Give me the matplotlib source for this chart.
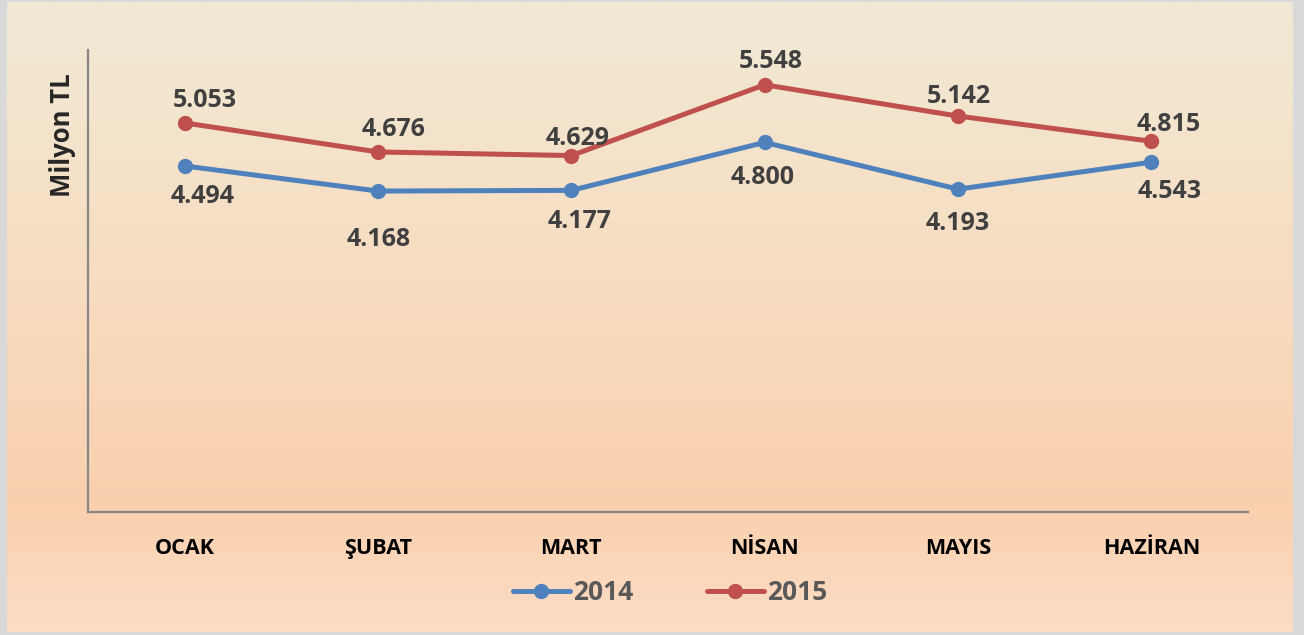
import numpy as np
import matplotlib.pyplot as plt
from matplotlib.colors import LinearSegmentedColormap

months = ["OCAK", "ŞUBAT", "MART", "NİSAN", "MAYIS", "HAZİRAN"]
series_2014 = [4.494, 4.168, 4.177, 4.800, 4.193, 4.543]
series_2015 = [5.053, 4.676, 4.629, 5.548, 5.142, 4.815]
labels_2014 = ["4.494", "4.168", "4.177", "4.800", "4.193", "4.543"]
labels_2015 = ["5.053", "4.676", "4.629", "5.548", "5.142", "4.815"]

# label offsets in pixels (dx, dy up-positive)
off_2015 = [(20, 22), (16, 22), (6, 17), (6, 23), (1, 20), (17, 17)]
off_2014 = [(18, -31), (1, -48), (8, -31), (-2, -35), (0, -34), (18, -29)]

plt.rcParams['font.family'] = ['Open Sans', 'DejaVu Sans']

W, H = 1304, 635
fig = plt.figure(figsize=(W / 100, H / 100), dpi=100)
fig.patch.set_facecolor('#D9D9D9')

# background gradient panel
bg = fig.add_axes([7 / W, 1 - 632 / H, (1293 - 7) / W, (632 - 2) / H], zorder=0)
cmap = LinearSegmentedColormap.from_list(
    'bg', [(0.0, '#F1EAD6'), (0.45, '#F7DCC0'), (0.8, '#FAD0AE'), (1.0, '#FCDDC5')])
grad = np.linspace(0, 1, 256).reshape(-1, 1)
bg.imshow(grad, aspect='auto', cmap=cmap, extent=[0, 1, 1, 0])
bg.set_xlim(0, 1)
bg.set_ylim(1, 0)
bg.axis('off')

ax = fig.add_axes([88 / W, 1 - 512 / H, (1248 - 88) / W, (512 - 50) / H], zorder=1)
ax.patch.set_alpha(0)

x = np.arange(len(months)) + 0.5
l1, = ax.plot(x, series_2014, color='#4F81BD', lw=3.6, marker='o', ms=10,
              solid_capstyle='round', label='2014', zorder=3)
l2, = ax.plot(x, series_2015, color='#C0504D', lw=3.6, marker='o', ms=10,
              solid_capstyle='round', label='2015', zorder=3)

for xi, v, t, (dx, dy) in zip(x, series_2015, labels_2015, off_2015):
    ax.annotate(t, (xi, v), xytext=(dx, dy), textcoords='offset pixels',
                ha='center', va='center', fontsize=18, fontweight='bold', color='#404040')
for xi, v, t, (dx, dy) in zip(x, series_2014, labels_2014, off_2014):
    ax.annotate(t, (xi, v), xytext=(dx, dy), textcoords='offset pixels',
                ha='center', va='center', fontsize=18, fontweight='bold', color='#404040')

ax.set_xlim(0, 6)
ax.set_ylim(0, 6)
ax.set_yticks([])
ax.set_xticks(x)
ax.set_xticklabels(months, fontsize=15.5, fontweight='bold', color='black')
ax.tick_params(axis='x', length=0, pad=19)
for s in ['top', 'right']:
    ax.spines[s].set_visible(False)
for s in ['left', 'bottom']:
    ax.spines[s].set_color('#878787')
    ax.spines[s].set_linewidth(1.6)

fig.text(63 / W, 1 - 135 / H, 'Milyon TL', rotation=90, ha='center', va='center',
         fontsize=18.5, fontweight='bold', color='#262626')

leg = fig.legend(handles=[l1, l2], loc='center', bbox_to_anchor=(670 / W, 1 - 593 / H),
                 ncol=2, frameon=False, fontsize=19, handlelength=2.15,
                 columnspacing=2.8, handletextpad=0.12)
for t in leg.get_texts():
    t.set_fontweight('bold')
    t.set_color('#595959')

fig.savefig('out.png', dpi=100, facecolor=fig.get_facecolor())
